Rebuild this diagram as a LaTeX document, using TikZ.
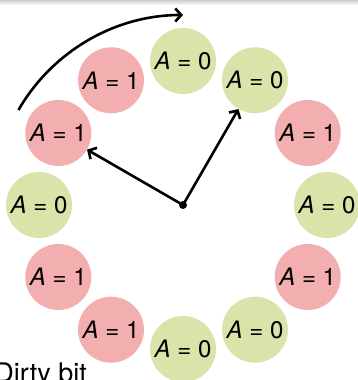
\documentclass[tikz,border=0pt]{standalone}
\usepackage{fontspec}
\setmainfont{TeX Gyre Heros}
\usetikzlibrary{arrows.meta,calc}
\definecolor{redbit}{RGB}{243,175,175}
\definecolor{greenbit}{RGB}{217,228,171}
\definecolor{barcol}{RGB}{200,206,214}
\begin{document}
\begin{tikzpicture}[x=1pt,y=1pt,
  bit/.style={circle,minimum size=66pt,inner sep=0pt,font=\fontsize{24}{26}\selectfont},
  one/.style={bit,fill=redbit},
  zero/.style={bit,fill=greenbit},
  ptr/.style={line width=2.6pt,-{Straight Barb[length=6pt,width=13pt]}}]
\useasboundingbox (0,0) rectangle (358,-380);
\shade[top color=barcol,bottom color=white] (0,0) rectangle (358,-5);
\coordinate (c) at (183,-205);
\foreach \ang/\v/\s [count=\i] in {90/0/zero,60/0/zero,30/1/one,0/0/zero,-30/1/one,-60/0/zero,-90/0/zero,-120/1/one,-150/1/one,180/0/zero,150/1/one,120/1/one}{
  \node[\s] (n\i) at ($(c)+(\ang:144)$) {\textit{A} = \v};
}
\fill (c) circle (4pt);
\node[circle,inner sep=0pt,minimum size=0pt] (hub) at (c) {};
\draw[ptr] (hub) -- (n11);
\draw[ptr] (hub) -- (n2);
\coordinate (s) at ($(c)+(150:190)$);
\draw[ptr] (s) arc[start angle=150,end angle=90,radius=190];
\node[anchor=base east,font=\fontsize{27}{29}\selectfont,inner sep=0pt] (lbl) at (87,-382) {Dirty bit};
\end{tikzpicture}
\end{document}
